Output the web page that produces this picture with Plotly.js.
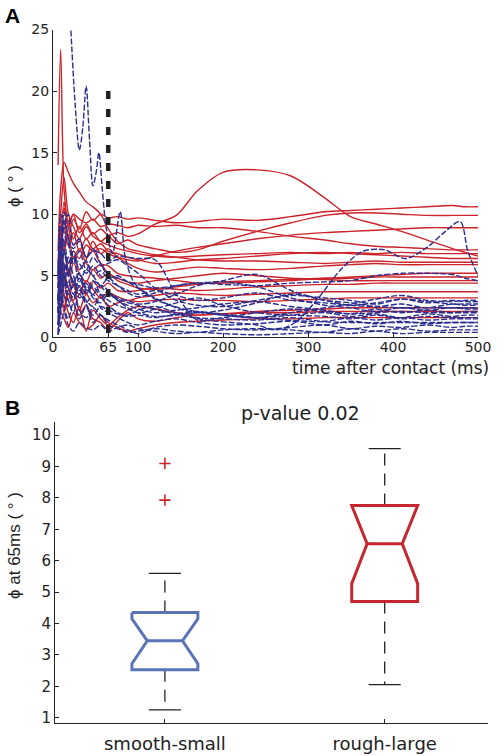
<!DOCTYPE html>
<html>
<head>
<meta charset="utf-8">
<script src="https://cdn.plot.ly/plotly-3.0.1.min.js"></script>
<style>html,body{margin:0;padding:0;background:#fff;}#chart{width:504px;height:756px;}</style>
</head>
<body>
<div id="chart"></div>
<script>
// ---------- Panel A data: phi (deg) vs time after contact (ms) ----------
const T = [6, 9, 13, 18, 24, 31, 39, 47, 56, 65, 76, 88, 100, 120, 145, 170, 200, 240, 280, 320, 350, 380, 410, 440, 470, 485, 500];

// rough-large trials (red, solid)
const R01 = [4, 8, 9.5, 8.2, 9.6, 8.8, 10.2, 9.5, 10.0, 9.7, 9.8, 9.6, 9.7, 9.5, 9.3, 9.4, 9.6, 9.5, 9.8, 10.2, 10.3, 10.4, 10.5, 10.6, 10.7, 10.6, 10.6];
const R02 = [3, 5, 7, 9.5, 8, 9.0, 8.0, 8.5, 7.8, 8.2, 7.6, 7.9, 7.5, 7.2, 6.9, 7.1, 7.8, 8.6, 9.3, 9.9, 10.1, 10.1, 10.0, 9.9, 9.9, 9.9, 9.9];
const R03 = [2, 4, 6, 5.2, 7, 6.4, 7.5, 7.0, 7.2, 6.8, 6.5, 6.3, 6.2, 6.6, 7.0, 7.3, 7.6, 8.0, 8.3, 8.5, 8.6, 8.7, 8.8, 8.9, 8.9, 8.9, 8.9];
const R04 = [3, 7, 11, 9, 10, 8.5, 9.2, 8.4, 8.8, 8.3, 8.5, 8.2, 8.4, 9.2, 9.9, 11.9, 13.4, 13.6, 13.1, 11.3, 9.8, 9.2, 8.6, 7.9, 7.2, 6.9, 6.6];
const R05 = [5, 8, 10.5, 9.2, 10, 9.6, 9.3, 9.6, 9.0, 9.2, 9.1, 8.9, 9.1, 9.0, 9.1, 8.9, 8.9, 8.6, 8.2, 7.9, 7.6, 7.4, 7.3, 7.2, 7.1, 7.1, 7.1];
const R06 = [6, 10, 13, 10, 9, 8, 9, 8.2, 7.8, 7.5, 7.2, 7.0, 6.8, 6.6, 6.5, 6.6, 6.7, 6.8, 6.9, 6.8, 6.9, 6.8, 6.9, 6.8, 6.8, 6.8, 6.8];
const R07 = [4, 6, 9, 7.5, 8.5, 7, 8, 7.2, 7.6, 7.0, 6.8, 6.5, 6.3, 6.0, 6.1, 6.3, 6.4, 6.6, 6.8, 6.9, 6.8, 6.7, 6.6, 6.5, 6.4, 6.4, 6.4];
const R08 = [7, 12, 14.2, 13.4, 12.5, 11.8, 11.0, 10.6, 10.0, 8.8, 7.8, 7.2, 7.0, 6.7, 6.5, 6.3, 6.2, 6.2, 6.1, 6.0, 6.1, 6.2, 6.1, 6.1, 6.1, 6.1, 6.1];
const R09 = [3, 5, 7, 6, 6.5, 5.5, 6.3, 7.8, 6.8, 7.2, 6.5, 6.0, 5.6, 5.3, 5.5, 5.7, 5.6, 5.5, 5.6, 5.8, 5.9, 6.0, 5.9, 5.9, 5.9, 5.9, 5.9];
const R10 = [14, 23.4, 12, 9, 7.5, 8, 6.5, 7.0, 6.0, 5.8, 5.2, 5.0, 4.9, 4.8, 4.6, 4.4, 4.4, 4.5, 4.6, 4.8, 4.9, 5.0, 5.1, 5.2, 5.2, 5.2, 5.2];
const R11 = [2, 4, 5, 4, 6, 5.2, 4.5, 5.5, 4.8, 5.2, 4.6, 4.3, 4.0, 3.9, 4.1, 4.3, 4.5, 4.6, 4.7, 4.8, 4.8, 4.9, 4.9, 4.9, 4.9, 4.9, 4.9];
const R12 = [5, 9, 7, 8.3, 6.5, 7.2, 6, 5.5, 5.9, 5.2, 4.8, 4.5, 4.4, 4.6, 4.8, 5.0, 5.2, 5.0, 4.8, 4.7, 4.6, 4.6, 4.6, 4.6, 4.6, 4.6, 4.6];
const R13 = [1, 3, 2.5, 3.8, 3.0, 4.2, 3.5, 4.5, 4.0, 4.4, 3.8, 3.7, 3.8, 4.0, 3.9, 3.8, 3.9, 4.1, 4.2, 4.3, 4.3, 4.4, 4.4, 4.4, 4.4, 4.4, 4.4];
const R14 = [3, 6, 4.5, 5.5, 4.2, 3.5, 4.6, 3.9, 3.2, 3.6, 3.3, 3.0, 3.2, 3.4, 3.6, 3.5, 3.4, 3.5, 3.6, 3.7, 3.7, 3.7, 3.7, 3.7, 3.7, 3.7, 3.7];
const R15 = [4, 7, 5, 3, 4.5, 2.2, 3.5, 2.8, 3.3, 2.5, 2.8, 3.0, 2.9, 3.0, 3.1, 3.0, 3.0, 2.9, 3.0, 3.1, 3.2, 3.2, 3.2, 3.2, 3.2, 3.2, 3.2];
const R16 = [2, 5, 3.5, 2.0, 1.2, 2.5, 0.5, 2.2, 1.5, 1.0, 1.6, 2.2, 2.5, 2.3, 2.0, 1.8, 1.9, 2.1, 2.2, 2.3, 2.4, 2.4, 2.4, 2.4, 2.4, 2.4, 2.4];
const R17 = [3, 4, 2, 3.5, 2.8, 1.8, 2.6, 1.5, 1.2, 0.6, 1.3, 2.0, 1.5, 1.3, 1.6, 1.8, 1.9, 2.0, 2.0, 2.1, 2.1, 2.1, 2.1, 2.1, 2.1, 2.1, 2.1];
const R18 = [1, 2, 1.5, 0.8, 2.0, 1.2, 0.7, 1.0, 1.8, 1.2, 0.8, 0.5, 0.7, 1.0, 1.2, 1.3, 1.4, 1.5, 1.5, 1.6, 1.6, 1.6, 1.6, 1.6, 1.6, 1.6, 1.6];

// smooth-small trials (blue, dashed)
const B01_t = [14, 18, 21, 26, 31, 35, 39, 43, 47, 51, 54, 58, 63, 70, 79, 85, 95, 110, 130, 160, 200, 250, 300, 350, 400, 450, 500];
const B01 = [34, 29, 25, 19, 15.2, 17, 20.4, 16, 12.3, 13.5, 15.0, 12, 8.7, 6.8, 10.2, 6.5, 4.5, 3.5, 2.8, 2.2, 1.8, 1.5, 1.3, 1.2, 1.2, 1.2, 1.2];
const B02_t = [6, 10, 15, 22, 30, 40, 50, 65, 80, 100, 125, 150, 180, 210, 240, 262, 285, 310, 340, 365, 390, 415, 440, 460, 479, 488, 500];
const B02 = [0.2, 3, 6, 4, 5.2, 3.8, 4.5, 3.5, 3.0, 2.6, 2.2, 1.8, 1.4, 1.2, 1.0, 0.6, 1.2, 3.0, 5.6, 7.0, 7.1, 6.4, 7.3, 8.5, 9.4, 7.0, 5.0];
const B03 = [3, 6, 8, 6, 7, 5.5, 6.2, 5.0, 5.4, 4.8, 5.0, 4.5, 4.3, 4.0, 4.2, 4.4, 4.3, 4.2, 4.4, 4.5, 4.6, 5.0, 5.2, 5.2, 5.1, 4.8, 4.6];
const B04 = [1, 5, 10.2, 8, 6, 7, 5.5, 6.5, 5.8, 6.0, 6.3, 5.8, 5.2, 4.0, 3.0, 2.6, 2.5, 3.0, 3.4, 3.2, 3.0, 2.7, 3.1, 2.8, 3.0, 2.9, 2.9];
const B05 = [2, 7, 9, 10, 7.5, 8, 6.5, 7.2, 6.0, 5.0, 4.8, 4.5, 4.0, 3.2, 2.4, 2.0, 2.2, 2.8, 3.5, 3.0, 2.8, 2.5, 2.7, 2.4, 2.7, 2.6, 2.6];
const B06 = [0.3, 4, 6, 5, 6.5, 4.5, 5.5, 5.0, 4.2, 4.8, 4.2, 3.6, 3.3, 3.6, 4.2, 4.4, 4.5, 4.1, 3.2, 2.6, 2.4, 2.1, 2.4, 2.2, 2.4, 2.3, 2.3];
const B07 = [5, 9, 7, 5.5, 4.5, 5.2, 4.0, 3.5, 4.2, 3.8, 3.0, 2.6, 2.3, 2.0, 2.2, 2.4, 2.7, 2.9, 2.5, 2.2, 1.9, 2.3, 2.0, 2.2, 2.0, 2.1, 2.1];
const B08 = [1, 3, 5, 3.5, 4.8, 3.2, 3.8, 4.6, 3.5, 3.0, 2.6, 2.3, 2.0, 1.7, 1.8, 2.0, 1.9, 1.6, 1.8, 2.0, 1.7, 1.9, 1.6, 1.9, 1.7, 1.8, 1.8];
const B09 = [3, 6, 4, 6.5, 5, 4, 3, 2.5, 3.2, 2.6, 2.0, 1.8, 2.2, 2.5, 2.0, 1.6, 1.5, 1.4, 1.6, 1.3, 1.6, 1.4, 1.6, 1.4, 1.5, 1.5, 1.5];
const B10 = [2, 8, 5.5, 4, 3.2, 4.2, 2.8, 3.5, 2.4, 2.0, 1.6, 1.2, 1.0, 1.3, 1.5, 1.2, 1.0, 1.1, 1.3, 1.0, 1.3, 1.1, 1.3, 1.1, 1.2, 1.2, 1.2];
const B11 = [0.5, 2, 3.5, 2.5, 3.5, 2.2, 1.6, 2.4, 1.8, 1.4, 1.0, 0.6, 0.3, 0.8, 1.0, 0.9, 0.7, 0.6, 0.8, 1.0, 0.7, 0.9, 0.8, 1.0, 0.8, 0.9, 0.9];
const B12 = [1.5, 4, 2.5, 1.5, 2.8, 1.5, 2.5, 1.2, 1.8, 1.0, 0.7, 0.4, 0.5, 0.7, 0.5, 0.4, 0.6, 0.7, 0.6, 0.4, 0.7, 0.5, 0.7, 0.5, 0.6, 0.6, 0.6];
const B13 = [0.2, 1, 2, 1, 0.5, 1.2, 0.8, 0.6, 1.0, 0.5, 0.8, 1.0, 0.7, 0.5, 0.3, 0.4, 0.3, 0.2, 0.3, 0.4, 0.3, 0.5, 0.3, 0.4, 0.4, 0.4, 0.4];
const B14 = [4, 10, 8.5, 7.5, 6.5, 6, 5.2, 5.8, 5.0, 4.6, 4.2, 3.8, 3.5, 3.8, 3.4, 3.0, 3.2, 3.6, 3.0, 2.8, 2.6, 2.8, 3.1, 2.9, 2.7, 2.7, 2.7];
const B15 = [2, 6, 9.5, 8, 7.2, 7.8, 6.5, 7.0, 6.8, 6.2, 6.6, 6.5, 6.4, 6.3, 3.5, 1.4, 1.6, 2.0, 2.3, 2.1, 1.9, 2.0, 2.1, 2.0, 2.0, 2.0, 2.0];
const B16 = [6, 4, 7, 5.5, 4.5, 3.8, 4.4, 3.2, 2.8, 3.5, 3.0, 2.4, 2.0, 2.3, 2.8, 3.2, 2.6, 2.0, 1.8, 1.7, 1.5, 1.8, 1.5, 1.7, 1.6, 1.6, 1.6];
const B17 = [3, 5, 4, 4.5, 3.5, 4.8, 3.6, 4.1, 3.4, 3.6, 3.2, 3.0, 2.7, 2.9, 3.5, 4.2, 4.6, 5.1, 3.8, 3.0, 2.6, 2.5, 2.4, 2.4, 2.4, 2.4, 2.4];
const B18 = [1, 2.5, 4, 3, 2, 3.5, 2.7, 1.8, 2.5, 2.2, 1.9, 1.7, 1.8, 1.6, 1.9, 2.1, 1.8, 1.6, 2.0, 2.4, 2.7, 3.1, 3.4, 3.0, 2.9, 3.0, 3.0];

const markerTime = 65;     // ms, analysis time
const markerTop = 20;      // top of the marker line (deg)
const xTicksA = [0, 65, 100, 200, 300, 400, 500];
const yTicksA = [0, 5, 10, 15, 20, 25];

// ---------- Panel B data: phi at 65 ms ----------
const groups = ['smooth-small', 'rough-large'];
const groupPos = [1, 2];
const q1 = [2.53, 4.70];
const med = [3.45, 6.54];
const q3 = [4.35, 7.76];
const notchLo = [2.72, 5.27];
const notchHi = [4.15, 7.81];
const whiskLo = [1.25, 2.05];
const whiskHi = [5.60, 9.57];
const outlierPos = [1, 1];
const outlierVal = [9.10, 7.93];
const yTicksB = [1, 2, 3, 4, 5, 6, 7, 8, 9, 10];

// ---------- styling ----------
const RED = '#cc232b';
const BLUE = '#2b2e8e';
const BOXCOL = ['#5a74b6', '#c6262e'];
const INK = '#222222';

const traces = [];
const reds = [R01,R02,R03,R04,R05,R06,R07,R08,R09,R10,R11,R12,R13,R14,R15,R16,R17,R18];
reds.forEach(r => traces.push({
  x: T, y: r, xaxis: 'x', yaxis: 'y', mode: 'lines', type: 'scatter',
  line: {color: RED, width: 1.4, shape: 'spline', smoothing: 0.9}, hoverinfo: 'skip'
}));
const blues = [[B01_t, B01], [B02_t, B02], [T, B03], [T, B04], [T, B05], [T, B06], [T, B07], [T, B08], [T, B09],
               [T, B10], [T, B11], [T, B12], [T, B13], [T, B14], [T, B15], [T, B16], [T, B17], [T, B18]];
blues.forEach(([tx, b]) => traces.push({
  x: tx, y: b, xaxis: 'x', yaxis: 'y', mode: 'lines', type: 'scatter',
  line: {color: BLUE, width: 1.4, dash: '6px,2px', shape: 'spline', smoothing: 0.9}, hoverinfo: 'skip'
}));
traces.push({
  x: [markerTime, markerTime], y: [markerTop, 0], xaxis: 'x', yaxis: 'y', mode: 'lines', type: 'scatter',
  line: {color: INK, width: 4.5, dash: '8px,10px'}, hoverinfo: 'skip'
});

// notched boxes
const W = 0.15, WN = 0.08, CAP = 0.073;
groupPos.forEach((c, i) => {
  const hi = Math.min(notchHi[i], q3[i]);
  const lo = Math.max(notchLo[i], q1[i]);
  const wTop = notchHi[i] > q3[i] ? WN + (W - WN) * (q3[i] - med[i]) / (notchHi[i] - med[i]) : W;
  const wBot = notchLo[i] < q1[i] ? WN + (W - WN) * (med[i] - q1[i]) / (med[i] - notchLo[i]) : W;
  const bx = [c - wTop, c + wTop, c + W, c + WN, c + W, c + wBot, c - wBot, c - W, c - WN, c - W, c - wTop];
  const by = [q3[i], q3[i], hi, med[i], lo, q1[i], q1[i], lo, med[i], hi, q3[i]];
  traces.push({x: [c, c], y: [q3[i], whiskHi[i]], xaxis: 'x2', yaxis: 'y2', mode: 'lines', type: 'scatter',
    line: {color: INK, width: 1.3, dash: '12px,8px'}, hoverinfo: 'skip'});
  traces.push({x: [c, c], y: [q1[i], whiskLo[i]], xaxis: 'x2', yaxis: 'y2', mode: 'lines', type: 'scatter',
    line: {color: INK, width: 1.3, dash: '12px,8px'}, hoverinfo: 'skip'});
  traces.push({x: [c - CAP, c + CAP, null, c - CAP, c + CAP], y: [whiskHi[i], whiskHi[i], null, whiskLo[i], whiskLo[i]],
    xaxis: 'x2', yaxis: 'y2', mode: 'lines', type: 'scatter', line: {color: INK, width: 1.3}, hoverinfo: 'skip'});
  traces.push({x: bx, y: by, xaxis: 'x2', yaxis: 'y2', mode: 'lines', type: 'scatter',
    line: {color: BOXCOL[i], width: 3}, hoverinfo: 'skip'});
  traces.push({x: [c - WN, c + WN], y: [med[i], med[i]], xaxis: 'x2', yaxis: 'y2', mode: 'lines', type: 'scatter',
    line: {color: BOXCOL[i], width: 3}, hoverinfo: 'skip'});
});
traces.push({x: outlierPos, y: outlierVal, xaxis: 'x2', yaxis: 'y2', mode: 'markers', type: 'scatter',
  marker: {symbol: 'cross-thin-open', size: 8, color: '#cc232b', line: {color: '#cc232b', width: 1.6}}, hoverinfo: 'skip'});

const H = 756, Wd = 504;
const px = v => v / Wd, py = v => 1 - v / H;

const axisCommon = {
  showline: true, linecolor: INK, linewidth: 1, ticks: 'inside', ticklen: 4, tickcolor: INK,
  showgrid: false, zeroline: false, mirror: false, fixedrange: true
};

const layout = {
  width: 504, height: 756,
  margin: {l: 0, r: 0, t: 0, b: 0},
  paper_bgcolor: '#ffffff', plot_bgcolor: '#ffffff',
  showlegend: false,
  font: {family: 'DejaVu Sans, sans-serif', color: INK, size: 14},
  xaxis: Object.assign({}, axisCommon, {
    domain: [px(53), px(478)], range: [0, 500], anchor: 'y',
    tickmode: 'array', tickvals: xTicksA, ticktext: xTicksA.map(String), tickfont: {size: 14}, ticklabelstandoff: -3
  }),
  yaxis: Object.assign({}, axisCommon, {
    domain: [py(337.3), py(29.5)], range: [0, 25], anchor: 'x',
    tickmode: 'array', tickvals: yTicksA, ticktext: yTicksA.map(String), tickfont: {size: 14}
  }),
  xaxis2: Object.assign({}, axisCommon, {
    domain: [px(55), px(488)], range: [0.5, 2.47], anchor: 'y2',
    tickmode: 'array', tickvals: groupPos, ticktext: groups, tickfont: {size: 18}, ticklabelstandoff: 5
  }),
  yaxis2: Object.assign({}, axisCommon, {
    domain: [py(722.7), py(422)], range: [0.84, 10.42], anchor: 'x2',
    tickmode: 'array', tickvals: yTicksB, ticktext: yTicksB.map(String), tickfont: {size: 15}
  }),
  annotations: [
    {text: '<b>A</b>', x: px(3), y: py(15), xref: 'paper', yref: 'paper', xanchor: 'left', yanchor: 'middle',
     showarrow: false, font: {family: 'Liberation Sans, Arial, sans-serif', size: 21, color: '#000'}},
    {text: '<b>B</b>', x: px(3), y: py(407), xref: 'paper', yref: 'paper', xanchor: 'left', yanchor: 'middle',
     showarrow: false, font: {family: 'Liberation Sans, Arial, sans-serif', size: 21, color: '#000'}},
    {text: 'ϕ ( ° )', x: px(14), y: py(186), xref: 'paper', yref: 'paper', xanchor: 'center', yanchor: 'middle',
     textangle: -90, showarrow: false, font: {family: 'Liberation Sans, Arial, sans-serif', size: 17}},
    {text: 'ϕ at 65ms ( ° )', x: px(14), y: py(546), xref: 'paper', yref: 'paper', xanchor: 'center', yanchor: 'middle',
     textangle: -90, showarrow: false, font: {family: 'Liberation Sans, Arial, sans-serif', size: 17}},
    {text: 'time after contact (ms)', x: px(491), y: py(368), xref: 'paper', yref: 'paper', xanchor: 'right', yanchor: 'middle',
     showarrow: false, font: {size: 17}},
    {text: 'p-value 0.02', x: px(300), y: py(413), xref: 'paper', yref: 'paper', xanchor: 'center', yanchor: 'middle',
     showarrow: false, font: {size: 19}}
  ]
};

Plotly.newPlot('chart', traces, layout, {staticPlot: true, displayModeBar: false});
</script>
</body>
</html>
